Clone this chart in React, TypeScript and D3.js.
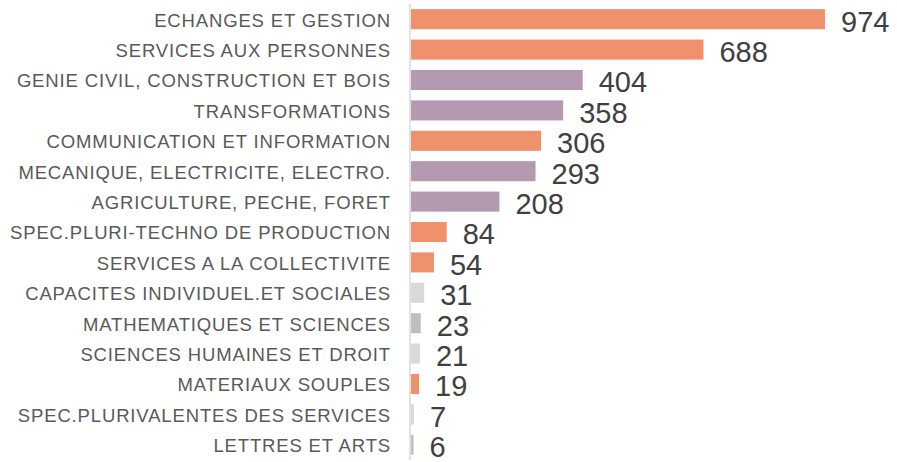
import React from "react";
import * as d3 from "d3";

const categories = [
  "ECHANGES ET GESTION",
  "SERVICES AUX PERSONNES",
  "GENIE CIVIL, CONSTRUCTION ET BOIS",
  "TRANSFORMATIONS",
  "COMMUNICATION ET INFORMATION",
  "MECANIQUE, ELECTRICITE, ELECTRO.",
  "AGRICULTURE, PECHE, FORET",
  "SPEC.PLURI-TECHNO DE PRODUCTION",
  "SERVICES A LA COLLECTIVITE",
  "CAPACITES INDIVIDUEL.ET SOCIALES",
  "MATHEMATIQUES ET SCIENCES",
  "SCIENCES HUMAINES ET DROIT",
  "MATERIAUX SOUPLES",
  "SPEC.PLURIVALENTES DES SERVICES",
  "LETTRES ET ARTS",
];
const values = [974, 688, 404, 358, 306, 293, 208, 84, 54, 31, 23, 21, 19, 7, 6];
const groups = ["o", "o", "p", "p", "o", "p", "p", "o", "o", "l", "g", "l", "o", "l", "g"];
const groupColors: Record<string, string> = {
  o: "#EF916D",
  p: "#B39AB0",
  l: "#D9D9D9",
  g: "#BFBFBF",
};

const W = 897;
const H = 462;
const x0 = 411;

export default function App() {
  const x = d3.scaleLinear().domain([0, 974]).range([x0, 825]);
  const y = d3.scaleBand<string>().domain(categories).range([4, 460]).paddingInner(0.34).paddingOuter(0.17);
  return (
    <svg width={W} height={H} style={{ position: "absolute", left: 0, top: 0 }}>
      <style>{`body{margin:0}`}</style>
      <line x1={x0 - 1} x2={x0 - 1} y1={4} y2={460} stroke="#D9D9D9" strokeWidth={1.5} />
      {categories.map((c, i) => {
        const yy = y(c)!;
        const bh = y.bandwidth();
        return (
          <g key={c}>
            <rect x={x0} y={yy} width={x(values[i]) - x0} height={bh} fill={groupColors[groups[i]]} />
            <text
              x={391}
              y={yy + bh / 2}
              dy="0.4em"
              textAnchor="end"
              fontFamily="'Liberation Sans', Arial, sans-serif"
              fontSize={18.5}
              letterSpacing={0.85}
              fill="#595959"
            >
              {c}
            </text>
            <text
              x={x(values[i]) + 16}
              y={yy + bh / 2}
              dy="0.43em"
              fontFamily="'Liberation Sans', Arial, sans-serif"
              fontSize={29}
              fill="#404040"
            >
              {values[i]}
            </text>
          </g>
        );
      })}
    </svg>
  );
}
